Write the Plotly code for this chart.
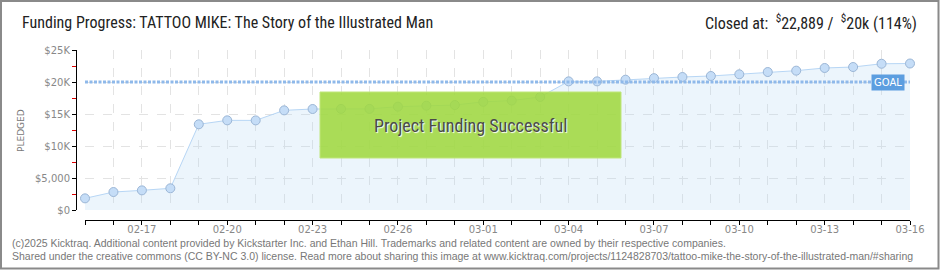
import plotly.graph_objects as go

# ---------------- data ----------------
dates = ["2025-02-15", "2025-02-16", "2025-02-17", "2025-02-18", "2025-02-19",
         "2025-02-20", "2025-02-21", "2025-02-22", "2025-02-23", "2025-02-24",
         "2025-02-25", "2025-02-26", "2025-02-27", "2025-02-28", "2025-03-01",
         "2025-03-02", "2025-03-03", "2025-03-04", "2025-03-05", "2025-03-06",
         "2025-03-07", "2025-03-08", "2025-03-09", "2025-03-10", "2025-03-11",
         "2025-03-12", "2025-03-13", "2025-03-14", "2025-03-15", "2025-03-16"]
pledged = [1820, 2810, 3070, 3390, 13390, 14010, 14000, 15570, 15780, 15800,
           15800, 16150, 16300, 16400, 16900, 17100, 17660, 20100, 20100, 20360,
           20600, 20780, 20940, 21200, 21560, 21770, 22190, 22340, 22850, 22889]
goal = 20000
y_tickvals = [0, 5000, 10000, 15000, 20000, 25000]
y_ticktext = ["$0", "$5,000", "$10K", "$15K", "$20K", "$25K"]

title_left = "Funding Progress: TATTOO MIKE: The Story of the Illustrated Man"
title_right = "Closed at:  <sup>$</sup>22,889 /  <sup>$</sup>20k (114%)"
footer1 = ("(c)2025 Kicktraq. Additional content provided by Kickstarter Inc. and Ethan Hill. "
           "Trademarks and related content are owned by their respective companies.")
footer2 = ("Shared under the creative commons (CC BY-NC 3.0) license. Read more about sharing this "
           "image at www.kicktraq.com/projects/1124828703/tattoo-mike-the-story-of-the-illustrated-man/#sharing")

# ---------------- layout geometry ----------------
W, H = 940, 270
L, R, T, B = 76, 30, 50, 50
PW, PH = W - L - R, H - T - B


def xp(px):
    return (px - L) / PW


def yp(py):
    return (H - B - py) / PH


narrow = "Liberation Sans Narrow, Roboto Condensed, Arial Narrow, sans-serif"
small = "DejaVu Sans, sans-serif"

fig = go.Figure()

fig.add_trace(go.Scatter(
    x=dates, y=pledged, mode="lines+markers",
    fill="tozeroy", fillcolor="rgba(180,215,245,0.25)",
    line=dict(color="#b7d6f5", width=1),
    marker=dict(size=9, color="#c5ddf7", line=dict(color="#9bb6d6", width=1)),
    cliponaxis=False, hoverinfo="skip", showlegend=False,
))

# goal line
fig.add_trace(go.Scatter(
    x=[dates[0], dates[-1]], y=[goal, goal], mode="lines",
    line=dict(color="#8fb9ea", width=3, dash="3px,1.5px"),
    hoverinfo="skip", showlegend=False,
))

fig.update_layout(
    width=W, height=H,
    margin=dict(l=L, r=R, t=T, b=B, pad=0),
    paper_bgcolor="white", plot_bgcolor="white",
    xaxis=dict(
        domain=[xp(85), 1], anchor="free", position=0,
        type="date", range=[dates[0], dates[-1]],
        tick0="2025-02-17", dtick=3 * 86400000, tickformat="%m-%d",
        ticks="outside", ticklen=4, tickcolor="black", tickwidth=1,
        ticklabelstandoff=-4,
        showline=True, linecolor="black", linewidth=1,
        showgrid=True, gridcolor="#e3e3e3", griddash="dash", gridwidth=1,
        minor=dict(dtick=86400000, ticks="outside", ticklen=4, tickcolor="black",
                   showgrid=True, gridcolor="#e3e3e3", griddash="dash"),
        tickfont=dict(family=small, size=10, color="#888"),
        zeroline=False, fixedrange=True,
    ),
    yaxis=dict(
        domain=[yp(210), 1], anchor="free", position=0,
        range=[0, 25000],
        tickvals=y_tickvals, ticktext=y_ticktext,
        ticks="outside", ticklen=4, tickcolor="black",
        showline=True, linecolor="black", linewidth=1,
        showgrid=True, gridcolor="#e3e3e3", griddash="dash",
        minor=dict(dtick=2500, ticks="outside", ticklen=4, tickcolor="#dd0000", showgrid=False),
        tickfont=dict(family=small, size=10, color="#888"),
        zeroline=False, fixedrange=True,
    ),
)

shapes = [
    # outer frame
    dict(type="rect", xref="paper", yref="paper", x0=xp(1), x1=xp(938.5), y0=yp(1), y1=yp(268.5),
         line=dict(color="#8a8a8a", width=2), fillcolor="rgba(0,0,0,0)", layer="above"),
    # success box
    dict(type="rect", xref="paper", yref="paper", x0=xp(320), x1=xp(621), y0=yp(158), y1=yp(92),
         line=dict(color="#bfe67a", width=1), fillcolor="rgba(160,216,64,0.88)", layer="above"),
]
fig.update_layout(shapes=shapes)

annotations = [
    dict(text=title_left, xref="paper", yref="paper", x=xp(20), y=yp(23), xanchor="left",
         yanchor="middle", showarrow=False, font=dict(family=narrow, size=16, color="#222")),
    dict(text=title_right, xref="paper", yref="paper", x=xp(919), y=yp(23), xanchor="right",
         yanchor="middle", showarrow=False, font=dict(family=narrow, size=16, color="#222")),
    dict(text="PLEDGED", xref="paper", yref="paper", x=xp(21), y=yp(130), textangle=-90,
         xanchor="center", yanchor="middle", showarrow=False,
         font=dict(family=small, size=9, color="#777")),
    dict(text="Project Funding Successful", xref="paper", yref="paper", x=xp(470.5), y=yp(125.5),
         xanchor="center", yanchor="middle", showarrow=False,
         font=dict(family=narrow, size=18, color="#4a4a4a", shadow="1px 1px 1px white")),
    dict(text="GOAL", xref="paper", yref="paper", x=xp(888), y=yp(82), xanchor="center",
         yanchor="middle", showarrow=False, bgcolor="#5c9ee0", borderpad=2,
         font=dict(family=small, size=10, color="white")),
    dict(text=footer1, xref="paper", yref="paper", x=xp(10), y=yp(243), xanchor="left",
         yanchor="middle", showarrow=False, font=dict(family="Liberation Sans, sans-serif", size=10.5, color="#777")),
    dict(text=footer2, xref="paper", yref="paper", x=xp(10), y=yp(256), xanchor="left",
         yanchor="middle", showarrow=False, font=dict(family="Liberation Sans, sans-serif", size=10.5, color="#777")),
]
fig.update_layout(annotations=annotations)

fig.write_html("out.html")
